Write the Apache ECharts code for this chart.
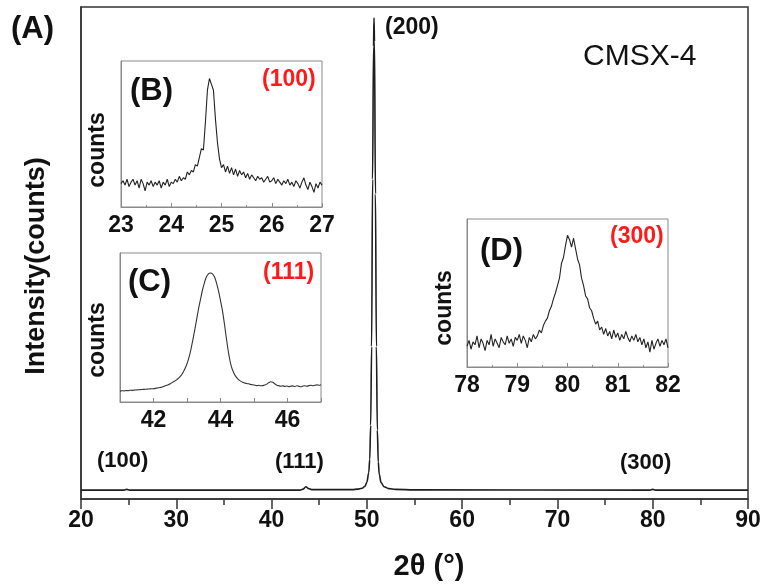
<!DOCTYPE html>
<html>
<head>
<meta charset="utf-8">
<script src="https://cdn.jsdelivr.net/npm/echarts@6/dist/echarts.min.js"></script>
<style>
  html, body { margin: 0; padding: 0; background: #fff; }
  #chart { width: 765px; height: 587px; }
</style>
</head>
<body>
<div id="chart"></div>
<script>
// Full XRD scan of CMSX-4 (2θ in degrees, relative intensity 0–100)
const mainTheta = [20, 24.5, 24.8, 25.1, 43.0, 43.3, 43.6, 43.9, 44.3, 48.5, 49.0, 49.5, 49.8, 50.0, 50.2, 50.3, 50.4, 50.5, 50.6, 50.7, 50.75, 50.8, 50.9, 51.0, 51.1, 51.2, 51.3, 51.5, 51.8, 52.3, 53.0, 55.0, 79.7, 80.0, 80.3, 90];
const mainIntensity = [1.8, 1.8, 1.95, 1.8, 1.8, 2.0, 2.5, 2.1, 1.9, 1.9, 2.0, 2.2, 2.6, 3.4, 5.4, 8.0, 15, 31, 65, 92, 97.8, 93, 62, 31, 14, 7.5, 5.0, 3.3, 2.5, 2.1, 1.95, 1.85, 1.8, 1.95, 1.8, 1.8];
const mainTicks = [20, 30, 40, 50, 60, 70, 80, 90];

// (B) detail scan around the (100) reflection, 23–27°, step 0.04°
const insetBStart = 23, insetBStep = 0.04;
const insetBCounts = [16, 18, 15, 19, 14, 17, 19, 15, 18, 13, 19, 16, 11, 17, 15, 18, 14, 17, 15, 18,
  13, 17, 15, 19, 14, 17, 16, 19, 17, 21, 18, 20, 19, 24, 22, 25, 24, 29, 28, 34,
  40, 39, 58, 80, 88, 84, 80, 60, 44, 33, 27, 29, 24, 28, 23, 27, 22, 26, 21, 25,
  22, 24, 20, 23, 19, 22, 20, 18, 21, 19, 20, 17, 19, 21, 17, 18, 20, 16, 19, 17,
  15, 18, 16, 19, 15, 17, 14, 18, 16, 13, 17, 20, 15, 12, 17, 14, 10, 16, 13, 17, 15];

// (C) detail scan around the (111) reflection, 41–47°, step 0.06°
const insetCStart = 41, insetCStep = 0.06;
const insetCCounts = [7.3, 7.6, 7.4, 7.7, 7.6, 7.9, 7.8, 8.0, 8.1, 8.2, 8.3, 8.4, 8.5, 8.6, 8.7, 8.8, 8.9, 9.0, 9.3, 9.5,
  9.7, 10.1, 10.6, 11.1, 11.6, 12.3, 13.1, 13.9, 14.7, 15.8, 17.2, 19.0, 21.5, 24.5, 28.5, 33.5, 40, 47, 54.5, 62,
  68.5, 75, 80, 84, 86, 86.6, 86, 84, 80, 74.5, 68, 61, 52, 42, 33, 26, 21.5, 18.5, 16.5, 15,
  14, 13.3, 12.8, 12.4, 12.2, 11.8, 11.6, 11.3, 11.0, 11.2, 10.9, 11.0, 11.4, 12.0, 13.0, 13.6, 13.2, 12.2, 11.3, 10.9,
  10.6, 10.8, 10.5, 10.7, 10.3, 10.6, 10.8, 10.4, 10.9, 10.5, 10.2, 10.7, 10.9, 10.6, 11.0, 11.2, 10.9, 11.3, 11.5, 11.2, 11.6];

// (D) detail scan around the (300) reflection, 78–82°, step 0.04°
const insetDStart = 78, insetDStep = 0.04;
const insetDCounts = [14, 18, 12, 17, 15, 21, 13, 19, 16, 11, 18, 15, 22, 14, 19, 16, 13, 20, 17, 15,
  21, 16, 19, 14, 20, 18, 22, 16, 21, 18, 13, 20, 17, 22, 19, 21, 25, 23, 28, 31,
  33, 38, 41, 46, 50, 55, 60, 70, 74, 82, 89, 86, 81, 87, 80, 73, 69, 60, 55, 48,
  46, 40, 38, 33, 29, 31, 25, 27, 22, 26, 21, 24, 19, 25, 20, 23, 18, 22, 19, 24,
  20, 17, 21, 18, 22, 17, 20, 15, 19, 13, 17, 10, 18, 12, 16, 19, 14, 18, 15, 19, 13];

const FONT = '"Liberation Sans", Arial, sans-serif';

function scan(start, step, counts) {
  return counts.map((v, i) => [+(start + i * step).toFixed(3), v]);
}

const mainData = mainTheta.map((t, i) => [t, mainIntensity[i]]);

function insetX(idx, min, max, labelFilter) {
  return {
    type: 'value', gridIndex: idx, min: min, max: max, interval: 1,
    axisLine: { lineStyle: { color: '#8a8a8a', width: 1 } },
    axisTick: { inside: true, length: 4, lineStyle: { color: '#8a8a8a' } },
    minorTick: { show: !labelFilter, splitNumber: 2, length: 2, lineStyle: { color: '#8a8a8a' } },
    axisLabel: {
      color: '#111', fontFamily: FONT, fontWeight: 'bold', fontSize: 23, margin: 7,
      formatter: v => (labelFilter ? (labelFilter(v) ? String(v) : '') : String(v))
    },
    splitLine: { show: false }
  };
}

function insetY(idx) {
  return {
    type: 'value', gridIndex: idx, min: 0, max: 100,
    axisLine: { show: true, lineStyle: { color: '#8a8a8a', width: 1 } },
    axisTick: { show: false }, axisLabel: { show: false }, splitLine: { show: false }
  };
}

// plain text label, positioned by its top-left corner
function txt(left, top, text, size, color, weight) {
  return {
    type: 'text', left: left, top: top, z: 10,
    style: { text: text, fill: color || '#111', font: (weight || 'bold') + ' ' + size + 'px ' + FONT }
  };
}

// centred text, optionally turned to read bottom-to-top
function ctext(cx, cy, text, size, vertical) {
  return {
    type: 'text', x: cx, y: cy, rotation: vertical ? Math.PI / 2 : 0, z: 10,
    style: { text: text, fill: '#111', font: 'bold ' + size + 'px ' + FONT, align: 'center', verticalAlign: 'middle' }
  };
}

const chart = echarts.init(document.getElementById('chart'), null, { renderer: 'canvas' });

chart.setOption({
  backgroundColor: '#fff',
  animation: false,
  grid: [
    { left: 81, top: 7, width: 667, height: 492, show: true, borderColor: '#333', borderWidth: 1.5 },
    { left: 121, top: 61, width: 201, height: 146, show: true, borderColor: '#8a8a8a', borderWidth: 1 },
    { left: 120, top: 253, width: 201, height: 149, show: true, borderColor: '#8a8a8a', borderWidth: 1 },
    { left: 467, top: 219, width: 201, height: 148, show: true, borderColor: '#8a8a8a', borderWidth: 1 }
  ],
  xAxis: [
    {
      type: 'value', gridIndex: 0, min: 20, max: 90, interval: 10,
      axisLine: { lineStyle: { color: '#333', width: 1.5 } },
      axisTick: { length: 10, lineStyle: { color: '#333', width: 1.5 } },
      minorTick: { show: true, splitNumber: 2, length: 6, lineStyle: { color: '#333', width: 1.5 } },
      axisLabel: { color: '#111', fontFamily: FONT, fontWeight: 'bold', fontSize: 23, margin: 10,
        customValues: mainTicks },
      splitLine: { show: false }
    },
    insetX(1, 23, 27),
    insetX(2, 41, 47, v => v % 2 === 0),
    insetX(3, 78, 82)
  ],
  yAxis: [
    {
      type: 'value', gridIndex: 0, min: 0, max: 100,
      axisLine: { show: true, lineStyle: { color: '#333', width: 1.5 } },
      axisTick: { show: false }, axisLabel: { show: false }, splitLine: { show: false }
    },
    insetY(1),
    insetY(2),
    insetY(3)
  ],
  series: [
    {
      type: 'line', xAxisIndex: 0, yAxisIndex: 0, data: mainData, showSymbol: false,
      smooth: 0.35, smoothMonotone: 'x',
      lineStyle: { color: '#1e1e1e', width: 1.6 }
    },
    {
      type: 'line', xAxisIndex: 1, yAxisIndex: 1, data: scan(insetBStart, insetBStep, insetBCounts),
      showSymbol: false, lineStyle: { color: '#222', width: 1.1 }
    },
    {
      type: 'line', xAxisIndex: 2, yAxisIndex: 2, data: scan(insetCStart, insetCStep, insetCCounts),
      showSymbol: false, smooth: 0.3, lineStyle: { color: '#333', width: 1.1 }
    },
    {
      type: 'line', xAxisIndex: 3, yAxisIndex: 3, data: scan(insetDStart, insetDStep, insetDCounts),
      showSymbol: false, lineStyle: { color: '#222', width: 1.1 }
    }
  ],
  graphic: [
    ctext(37, 266, 'Intensity(counts)', 27, true),
    ctext(429, 567, '2θ (°)', 29, false),
    ctext(98, 150, 'counts', 23, true),
    ctext(98, 340, 'counts', 23, true),
    ctext(445, 308, 'counts', 23, true),
    txt(11, 14, '(A)', 31),
    txt(385, 16, '(200)', 23),
    txt(583, 42, 'CMSX-4', 30, '#111', 'normal'),
    txt(97, 450, '(100)', 22),
    txt(275, 451, '(111)', 22),
    txt(620, 452, '(300)', 22),
    txt(130, 76, '(B)', 31),
    txt(262, 68, '(100)', 23, '#ff1a1a'),
    txt(128, 267, '(C)', 31),
    txt(263, 261, '(111)', 23, '#ff1a1a'),
    txt(480, 236, '(D)', 31),
    txt(610, 225, '(300)', 23, '#ff1a1a')
  ]
});
</script>
</body>
</html>
